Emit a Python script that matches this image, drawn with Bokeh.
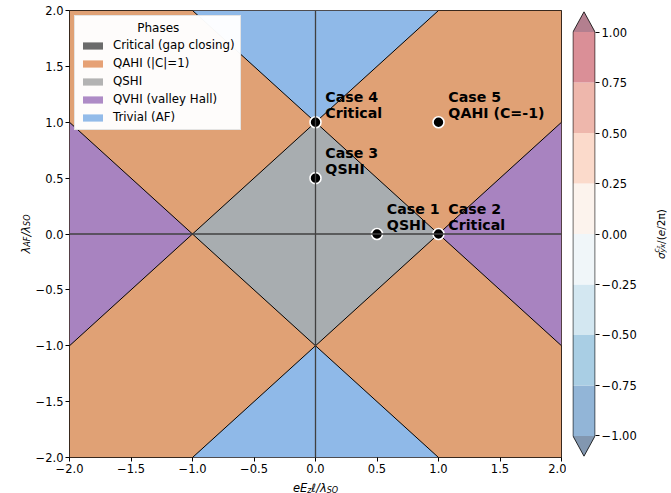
import numpy as np
from bokeh.plotting import figure
from bokeh.layouts import row, column
from bokeh.models import (Span, Legend, LegendItem, FixedTicker,
                          CustomJSTickFormatter, Range1d)
from bokeh.core.properties import value
from bokeh.embed import file_html
from bokeh.resources import INLINE

# ---------------- data ----------------
x_lim = [-2.0, 2.0]
y_lim = [-2.0, 2.0]
x_ticks = [-2.0, -1.5, -1.0, -0.5, 0.0, 0.5, 1.0, 1.5, 2.0]
y_ticks = [-2.0, -1.5, -1.0, -0.5, 0.0, 0.5, 1.0, 1.5, 2.0]

qshi_xs = [1.0, 0.0, -1.0, 0.0]
qshi_ys = [0.0, 1.0, 0.0, -1.0]
trivial_xs = [[0.0, 1.0, -1.0], [0.0, 1.0, -1.0]]
trivial_ys = [[1.0, 2.0, 2.0], [-1.0, -2.0, -2.0]]
qvhi_xs = [[1.0, 2.0, 2.0], [-1.0, -2.0, -2.0]]
qvhi_ys = [[0.0, 1.0, -1.0], [0.0, 1.0, -1.0]]

bound_x0 = [-2.0, -1.0, -1.0, -2.0]
bound_y0 = [-1.0, 2.0, -2.0, 1.0]
bound_x1 = [1.0, 2.0, 2.0, 1.0]
bound_y1 = [2.0, -1.0, 1.0, -2.0]

case_x = [0.5, 1.0, 0.0, 0.0, 1.0]
case_y = [0.0, 0.0, 0.5, 1.0, 1.0]
case_name = ["Case 1", "Case 2", "Case 3", "Case 4", "Case 5"]
case_phase = ["QSHI", "Critical", "QSHI", "Critical", "QAHI (C=-1)"]

legend_title = "Phases"
phase_names = ["Critical (gap closing)", "QAHI (|C|=1)", "QSHI",
               "QVHI (valley Hall)", "Trivial (AF)"]
phase_legend_colors = ["#6b6b6b", "#e6a175", "#b3b3b3", "#ae8bc6", "#93bbe9"]

cbar_levels = [-1.0, -0.75, -0.5, -0.25, 0.0, 0.25, 0.5, 0.75, 1.0]
cbar_colors = ["#92b5d7", "#a9cee4", "#d3e7f1", "#f0f6f9",
               "#fcf3ed", "#fbdacb", "#eeb7ac", "#da8f97"]
cbar_under = "#8297b0"
cbar_over = "#b37f8f"

C_QAHI = "#e0a175"
C_QSHI = "#a8adb0"
C_QVHI = "#a883c0"
C_TRIV = "#8fb9e8"

FONT = "DejaVu Sans"
TICK_FS = "11.5px"

# layout (pixels)
H = 493
TOP, BOT = 10, 36          # frame top / bottom borders -> frame 10..457
LEFT_W = 32                # y-label strip
ML, MR = 35, 5             # main figure left/right borders
MAIN_W = 534
XLAB_H = 14
PXX = 494 / 4.0            # px per data unit, x
PXY = 447 / 4.0            # px per data unit, y


def label_fig(w, h, x_range, y_range, bl=0, br=0, bt=0, bb=0):
    f = figure(width=w, height=h, x_range=x_range, y_range=y_range,
               output_backend="svg", toolbar_location=None, min_border=0,
               min_border_left=bl, min_border_right=br, min_border_top=bt, min_border_bottom=bb,
               x_axis_location=None, y_axis_location=None)
    f.grid.visible = False
    f.outline_line_color = None
    return f


def put(f, x, y, t, fs, style="italic", angle=0.0):
    f.text(x=[x], y=[y], text=[t], angle=angle, text_font=value(FONT),
           text_font_style=style, text_font_size=fs, text_align="left",
           text_baseline="alphabetic", text_color="black")


# ---------------- main figure ----------------
p = figure(width=MAIN_W, height=H - XLAB_H, x_range=Range1d(*x_lim), y_range=Range1d(*y_lim),
           output_backend="svg", toolbar_location=None,
           min_border_left=ML, min_border_right=MR, min_border_top=TOP,
           min_border_bottom=BOT - XLAB_H)
p.grid.visible = False
p.outline_line_color = "black"
p.outline_line_width = 1

p.quad(left=[x_lim[0]], right=[x_lim[1]], bottom=[y_lim[0]], top=[y_lim[1]],
       fill_color=C_QAHI, line_color=None)
p.patch(qshi_xs, qshi_ys, fill_color=C_QSHI, line_color=None)
p.patches(trivial_xs, trivial_ys, fill_color=C_TRIV, line_color=None)
p.patches(qvhi_xs, qvhi_ys, fill_color=C_QVHI, line_color=None)
p.segment(x0=bound_x0, y0=bound_y0, x1=bound_x1, y1=bound_y1,
          line_color="black", line_width=1)

p.add_layout(Span(location=0, dimension="height", line_color="#404040", line_width=1.3))
p.add_layout(Span(location=0, dimension="width", line_color="#404040", line_width=1.3))

p.scatter(case_x, case_y, size=11, fill_color="black", line_color="white", line_width=1.6)

cx = np.array(case_x)
cy = np.array(case_y)
DX, DY, LINE = 0.08, 0.08, 16.5 / PXY
p.text(x=cx + DX, y=cy + DY, text=case_phase, text_font=value(FONT), text_font_style="bold",
       text_font_size="14.2px", text_baseline="alphabetic", text_align="left", text_color="black")
p.text(x=cx + DX, y=cy + DY + LINE, text=case_name, text_font=value(FONT), text_font_style="bold",
       text_font_size="14.2px", text_baseline="alphabetic", text_align="left", text_color="black")

items = []
for name, col in zip(phase_names, phase_legend_colors):
    r = p.quad(left=[np.nan], right=[np.nan], top=[np.nan], bottom=[np.nan],
               fill_color=col, line_color=None)
    items.append(LegendItem(label=name, renderers=[r]))
legend = Legend(items=items, location="top_left", margin=5, padding=5, spacing=4,
                label_height=14, glyph_height=9, glyph_width=25, label_standoff=8,
                label_text_font=FONT, label_text_font_size="11.8px", label_text_color="black",
                title="\u00a0" * 15 + legend_title, title_text_font=FONT,
                title_text_font_style="normal",
                title_text_font_size="12px", title_text_color="black", title_standoff=3,
                border_line_color="#cccccc", border_line_width=1,
                background_fill_color="white", background_fill_alpha=0.97)
p.add_layout(legend)

fmt1 = CustomJSTickFormatter(code="return tick.toFixed(1).replace('-', '\u2212');")
for ax, ticks in ((p.xaxis, x_ticks), (p.yaxis, y_ticks)):
    ax.ticker = FixedTicker(ticks=ticks)
    ax.formatter = fmt1
    ax.major_label_text_font = FONT
    ax.major_label_text_font_size = TICK_FS
    ax.major_label_text_color = "black"
    ax.major_tick_in = 0
    ax.major_tick_out = 4
    ax.major_tick_line_color = "black"
    ax.minor_tick_line_color = None
    ax.axis_line_color = None
    ax.major_label_standoff = 2

# ---------------- x label strip:  e E_z l / lambda_SO ----------------
xlab = label_fig(MAIN_W, XLAB_H, Range1d(*x_lim), Range1d(0, XLAB_H), bl=ML, br=MR)
XB = 6.0
put(xlab, -22.7 / PXX, XB, "eE", "11.5px")
put(xlab, -8.4 / PXX, XB - 2.5, "z", "8px")
put(xlab, -4.2 / PXX, XB, "ℓ/λ", "11.5px")
put(xlab, 11.3 / PXX, XB - 2.5, "SO", "8px")

# ---------------- y label strip:  lambda_AF / lambda_SO ----------------
ylab = label_fig(LEFT_W, H, Range1d(0, LEFT_W), Range1d(*y_lim), bt=TOP, bb=BOT)
YB = 25.0
A90 = np.pi / 2
put(ylab, YB, -19.5 / PXY, "λ", "11.5px", angle=A90)
put(ylab, YB + 2.0, -12.7 / PXY, "AF", "8px", angle=A90)
put(ylab, YB, -2.6 / PXY, "/λ", "11.5px", angle=A90)
put(ylab, YB + 2.0, 8.1 / PXY, "SO", "8px", angle=A90)

# ---------------- colorbar ----------------
EXT = 0.1
cb = figure(width=73, height=H, x_range=Range1d(-0.02, 1.02),
            y_range=Range1d(-1.1065, 1.1065),
            y_axis_location="right", output_backend="svg", toolbar_location=None,
            min_border_left=6, min_border_right=43, min_border_top=TOP, min_border_bottom=BOT)
cb.grid.visible = False
cb.outline_line_color = None
cb.xaxis.visible = False
lv = np.array(cbar_levels)
cb.quad(left=0, right=1, bottom=lv[:-1], top=lv[1:], fill_color=cbar_colors, line_color=None)
cb.patch([0, 1, 0.5], [lv[-1], lv[-1], lv[-1] + EXT], fill_color=cbar_over, line_color=None)
cb.patch([0, 1, 0.5], [lv[0], lv[0], lv[0] - EXT], fill_color=cbar_under, line_color=None)
cb.line([0, 0, 0.5, 1, 1, 0.5, 0],
        [lv[0], lv[-1], lv[-1] + EXT, lv[-1], lv[0], lv[0] - EXT, lv[0]],
        line_color="black", line_width=0.8)

fmt2 = CustomJSTickFormatter(code="return tick.toFixed(2).replace('-', '\u2212');")
ya = cb.yaxis
ya.ticker = FixedTicker(ticks=cbar_levels)
ya.formatter = fmt2
ya.major_label_text_font = FONT
ya.major_label_text_font_size = TICK_FS
ya.major_label_text_color = "black"
ya.major_tick_in = 0
ya.major_tick_out = 4
ya.major_tick_line_color = "black"
ya.minor_tick_line_color = None
ya.axis_line_color = None
ya.major_label_standoff = 2

# ---------------- colorbar label strip: sigma^{c_z}_{yx}/(e/2pi) ----------------
CBL_W = 671 - LEFT_W - MAIN_W - 73
cbl = label_fig(CBL_W, H, Range1d(0, CBL_W), Range1d(*y_lim), bt=TOP, bb=BOT)
CB_ = 21.0
put(cbl, CB_, -25.0 / PXY, "σ", "10.5px", angle=A90)
put(cbl, CB_ - 4.3, -18.6 / PXY, "c", "7.4px", angle=A90)
put(cbl, CB_ - 2.6, -14.6 / PXY, "z", "5.3px", angle=A90)
put(cbl, CB_ + 2.4, -18.6 / PXY, "yx", "7.4px", angle=A90)
put(cbl, CB_, -9.9 / PXY, "/(", "10.5px", style="normal", angle=A90)
put(cbl, CB_, -2.3 / PXY, "e", "10.5px", angle=A90)
put(cbl, CB_, 4.2 / PXY, "/2π)", "10.5px", style="normal", angle=A90)

layout = row(ylab, column(p, xlab), cb, cbl)
open("out.html", "w").write(file_html(layout, INLINE))
